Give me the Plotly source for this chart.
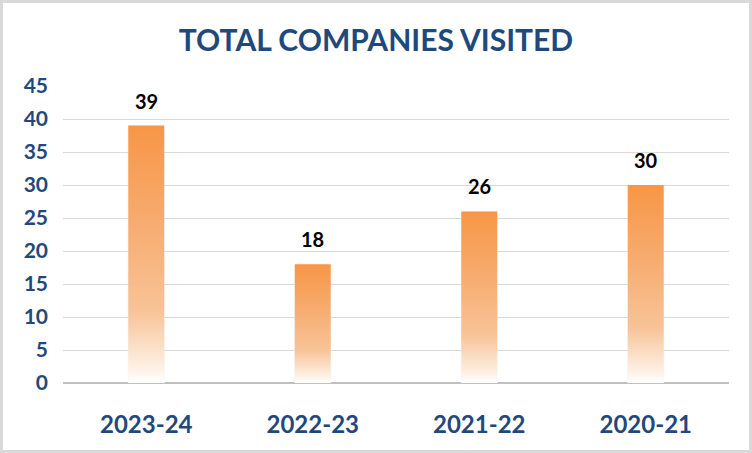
import plotly.graph_objects as go

categories = ["2023-24", "2022-23", "2021-22", "2020-21"]
companies = [39, 18, 26, 30]
y_ticks = [0, 5, 10, 15, 20, 25, 30, 35, 40, 45]

W, H = 752, 453
ML, MR, MT, MB = 63, 23, 86, 70
BAR_W = 0.216
BLUE = "#1F497D"
FONT = "Lato"

gradient = [[0.0, "#ffffff"], [0.06, "#fdf0e4"], [0.28, "#f8c397"],
            [0.6, "#f7ad72"], [1.0, "#f79646"]]

fig = go.Figure()

# gradient-filled bars, one polygon per category
for i, v in enumerate(companies):
    fig.add_trace(go.Scatter(
        x=[i - BAR_W / 2, i + BAR_W / 2, i + BAR_W / 2, i - BAR_W / 2, i - BAR_W / 2],
        y=[0, 0, v, v, 0],
        mode="lines", line=dict(width=0), fill="toself",
        fillgradient=dict(type="vertical", colorscale=gradient, start=0, stop=v),
        hoverinfo="skip", showlegend=False,
    ))

# data bar (transparent) for hover
fig.add_trace(go.Bar(
    x=list(range(len(categories))), y=companies, width=BAR_W,
    marker=dict(color="rgba(0,0,0,0)"),
    showlegend=False, hovertext=categories, hoverinfo="text+y",
))

annotations = [
    dict(x=i, y=v, xref="x", yref="y", text=str(v), showarrow=False,
         yanchor="bottom", yshift=11,
         font=dict(family=FONT, size=20, color="#000000", weight="bold"))
    for i, v in enumerate(companies)
]

fig.update_layout(
    width=W, height=H,
    margin=dict(l=ML, r=MR, t=MT, b=MB),
    paper_bgcolor="white", plot_bgcolor="white",
    title=dict(text="TOTAL COMPANIES VISITED", x=0.5, xanchor="center",
               y=1 - 40 / H, yanchor="middle",
               font=dict(family=FONT, size=30, color=BLUE, weight="bold")),
    xaxis=dict(range=[-0.5, len(categories) - 0.5],
               tickvals=list(range(len(categories))), ticktext=categories,
               tickfont=dict(family=FONT, size=24, color=BLUE, weight="bold"),
               showgrid=False, zeroline=False, showline=False,
               ticks="", ticklabelstandoff=25),
    yaxis=dict(range=[0, 45], tickvals=y_ticks,
               tickfont=dict(family=FONT, size=21, color=BLUE, weight="bold"),
               showgrid=True, gridcolor="#d9d9d9", gridwidth=1,
               zeroline=True, zerolinecolor="#c0c0c0", zerolinewidth=1.5,
               ticks="", ticklabelstandoff=14),
    bargap=0.78,
    annotations=annotations,
    shapes=[dict(type="rect", xref="paper", yref="paper",
                 x0=-(ML - 1.5) / (W - ML - MR), x1=1 + (MR - 1.5) / (W - ML - MR),
                 y0=-(MB - 1.5) / (H - MT - MB), y1=1 + (MT - 1.5) / (H - MT - MB),
                 line=dict(color="#d9d9d9", width=3), layer="above")],
)

fig.write_html("out.html", config={"displayModeBar": False},
               post_script="document.body.style.margin='0';document.body.style.overflow='hidden';")
